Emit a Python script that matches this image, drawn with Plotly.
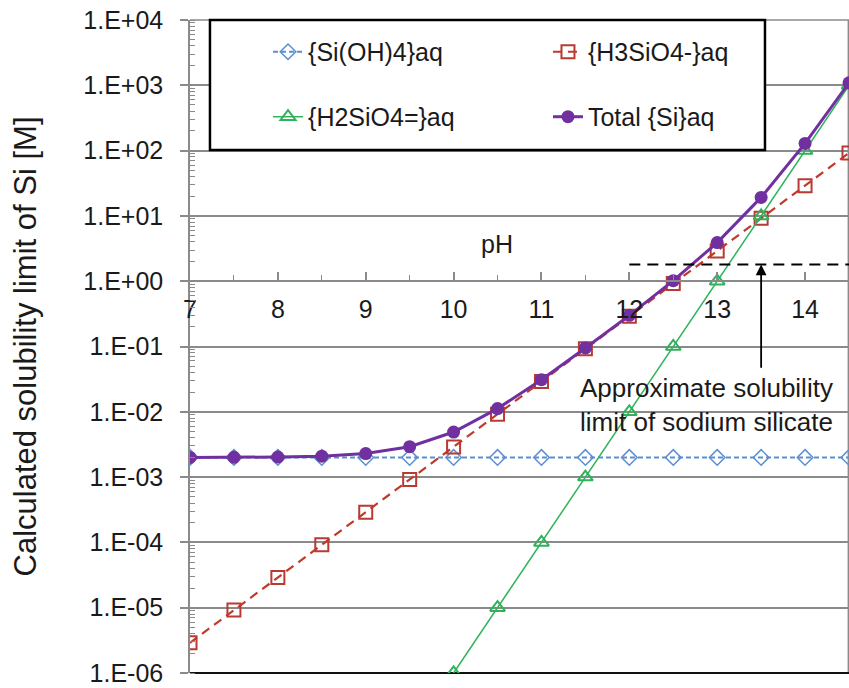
import plotly.graph_objects as go
import math

ph = [7, 7.5, 8, 8.5, 9, 9.5, 10, 10.5, 11, 11.5, 12, 12.5, 13, 13.5, 14, 14.5]
si_oh4 = [2.0e-3] * 16
h3sio4 = [2.9e-6, 9.2e-6, 2.9e-5, 9.2e-5, 2.9e-4, 9.2e-4, 2.9e-3, 9.2e-3,
          2.9e-2, 9.2e-2, 0.29, 0.92, 2.9, 9.2, 29, 92]
h2sio4 = [None, None, None, None, None, None, 1e-6, 1e-5,
          1e-4, 1e-3, 1e-2, 0.1, 1.0, 10, 100, 1000]
total = [2.0e-3, 2.01e-3, 2.03e-3, 2.09e-3, 2.29e-3, 2.92e-3, 4.9e-3, 1.12e-2,
         3.1e-2, 9.5e-2, 0.30, 1.02, 3.9, 19.2, 129, 1092]

limit_ph = [12, 14.5]
limit_val = [1.8, 1.8]
arrow_ph = 13.5
arrow_from = 0.045

ytick_vals = [1e-6, 1e-5, 1e-4, 1e-3, 1e-2, 1e-1, 1, 10, 100, 1000, 10000]
ytick_text = ["1.E-06", "1.E-05", "1.E-04", "1.E-03", "1.E-02", "1.E-01",
              "1.E+00", "1.E+01", "1.E+02", "1.E+03", "1.E+04"]
xtick_vals = [7, 8, 9, 10, 11, 12, 13, 14]

FONT = "Liberation Sans, Arial, sans-serif"
GRID = "#8a8a8a"
TXT = "#1a1a1a"
FS = 25

fig = go.Figure()
fig.add_trace(go.Scatter(x=ph, y=si_oh4, name="{Si(OH)4}aq", mode="lines+markers",
                         line=dict(color="#5b8fd0", width=2, dash="5px,3px"),
                         marker=dict(symbol="diamond-open", size=12, color="#5b8fd0", line=dict(width=1.5)),
                         legend="legend"))
fig.add_trace(go.Scatter(x=ph, y=h3sio4, name="{H3SiO4-}aq", mode="lines+markers",
                         line=dict(color="#c0392b", width=2.2, dash="9px,6px"),
                         marker=dict(symbol="square-open", size=13, color="#b83a32", line=dict(width=2)),
                         legend="legend2"))
fig.add_trace(go.Scatter(x=ph, y=h2sio4, name="{H2SiO4=}aq", mode="lines+markers",
                         line=dict(color="#2db35a", width=1.5),
                         marker=dict(symbol="triangle-up-open", size=13, color="#2db35a", line=dict(width=2)),
                         legend="legend3"))
fig.add_trace(go.Scatter(x=ph, y=total, name="Total {Si}aq", mode="lines+markers",
                         line=dict(color="#7030a0", width=3),
                         marker=dict(symbol="circle", size=13, color="#7030a0"),
                         legend="legend4"))
fig.add_trace(go.Scatter(x=limit_ph, y=limit_val, mode="lines", showlegend=False,
                         line=dict(color="black", width=2, dash="11px,7px"), hoverinfo="skip"))

fig.add_annotation(x=arrow_ph, y=math.log10(limit_val[0]), ax=arrow_ph, ay=math.log10(arrow_from),
                   axref="x", ayref="y", xref="x", yref="y", text="", showarrow=True,
                   arrowhead=2, arrowsize=1.2, arrowwidth=1.8, arrowcolor="black")
fig.add_annotation(x=12.88, y=-1.89, xref="x", yref="y",
                   text="Approximate solubility<br>limit of sodium silicate",
                   showarrow=False, font=dict(family=FONT, size=26, color=TXT), align="center")
fig.add_annotation(x=10.49, y=0.57, xref="x", yref="y", text="pH", showarrow=False,
                   font=dict(family=FONT, size=FS, color=TXT))

# legend box
fig.add_shape(type="rect", xref="paper", yref="paper", x0=0.0303, x1=0.8725, y0=0.801, y1=1.0,
              fillcolor="white", line=dict(color="black", width=2.5), layer="above")
# plot border
fig.add_shape(type="line", xref="paper", yref="paper", x0=0, x1=1, y0=1, y1=1,
              line=dict(color=GRID, width=1.5), layer="below")
fig.add_shape(type="line", xref="paper", yref="paper", x0=0.999, x1=0.999, y0=0, y1=1,
              line=dict(color=GRID, width=1.5), layer="below")
fig.add_shape(type="line", xref="paper", yref="paper", x0=0, x1=1, y0=0, y1=0,
              line=dict(color="#111", width=2), layer="below")

def leg(x, y):
    return dict(orientation="v", x=x, y=y, xanchor="left", yanchor="middle",
                bgcolor="rgba(0,0,0,0)", borderwidth=0,
                font=dict(family=FONT, size=FS, color=TXT))

fig.update_layout(
    width=849, height=688,
    margin=dict(l=190, r=0, t=20, b=15),
    paper_bgcolor="white", plot_bgcolor="white",
    font=dict(family=FONT, size=FS, color=TXT),
    legend=leg(0.1184, 0.951),
    legend2=leg(0.5432, 0.951),
    legend3=leg(0.1184, 0.8515),
    legend4=leg(0.5432, 0.8515),
    xaxis=dict(range=[7, 14.5], tickvals=xtick_vals, showgrid=False, zeroline=False,
               anchor="free", position=0.6, showline=True, linecolor=GRID, linewidth=1.5,
               ticks="inside", ticklen=8, tickwidth=1.5, tickcolor=GRID, automargin=False,
               ticklabelstandoff=6,
               minor=dict(dtick=0.5, tick0=7, ticks="inside", ticklen=5, tickcolor=GRID, tickwidth=1.2),
               tickfont=dict(family=FONT, size=FS, color=TXT)),
    yaxis=dict(type="log", range=[-6, 4], tickvals=ytick_vals, ticktext=ytick_text,
               showgrid=True, gridcolor=GRID, gridwidth=1.5, automargin=False,
               showline=True, linecolor=GRID, linewidth=1.5,
               ticks="outside", ticklen=8, tickwidth=1.5, tickcolor=GRID,
               ticklabelstandoff=12,
               minor=dict(dtick="D1", ticks="inside", ticklen=5, tickcolor=GRID, tickwidth=1, showgrid=False),
               tickfont=dict(family=FONT, size=FS, color=TXT),
               title=dict(text="Calculated solubility limit of Si [M]", standoff=37,
                          font=dict(family=FONT, size=31, color=TXT))),
)

fig.write_html("out.html", config={"displayModeBar": False},
               post_script="document.body.style.margin='0';document.body.style.overflow='hidden';")
